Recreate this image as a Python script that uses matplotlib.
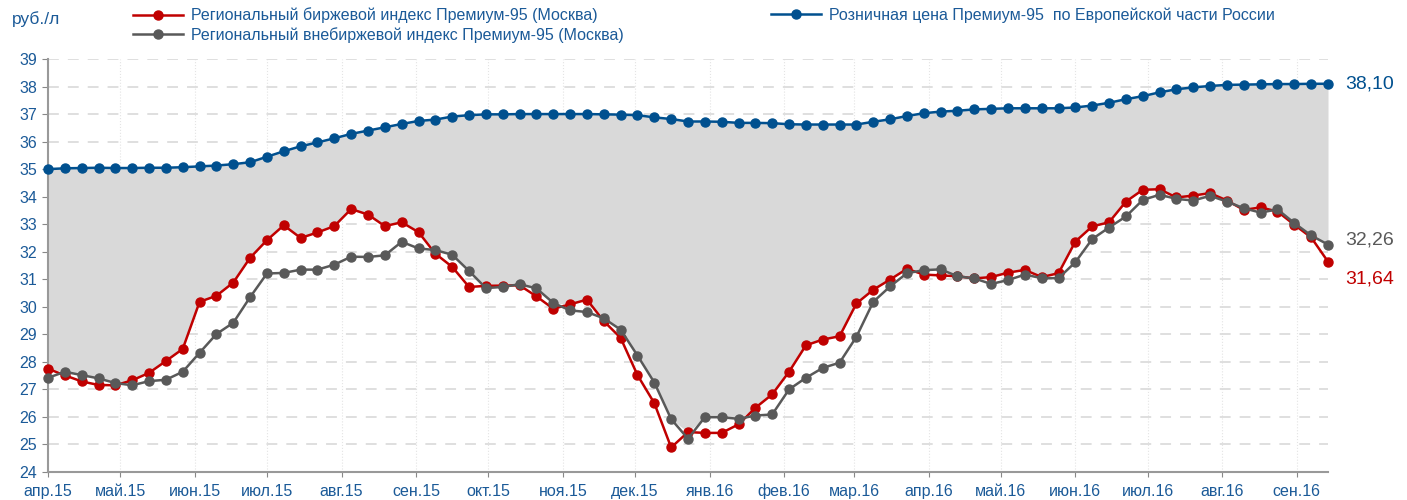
import matplotlib
matplotlib.use('Agg')
import matplotlib.pyplot as plt
import numpy as np
import pandas as pd

plt.rcParams['font.family'] = ['Liberation Sans', 'DejaVu Sans']

# weekly observations, Apr 2015 - Sep 2016
weeks = pd.date_range('2015-04-01', periods=77, freq='7D')

retail = [35.00, 35.03, 35.04, 35.05, 35.04, 35.04, 35.05, 35.05, 35.07, 35.10,
          35.13, 35.18, 35.25, 35.45, 35.65, 35.83, 35.97, 36.12, 36.28, 36.40,
          36.52, 36.64, 36.75, 36.80, 36.91, 36.96, 36.99, 36.99, 37.00, 37.00,
          37.00, 37.00, 37.00, 36.99, 36.98, 36.96, 36.88, 36.82, 36.73, 36.73,
          36.72, 36.68, 36.68, 36.67, 36.63, 36.62, 36.62, 36.62, 36.62, 36.72,
          36.81, 36.93, 37.03, 37.09, 37.12, 37.17, 37.19, 37.21, 37.21, 37.21,
          37.21, 37.24, 37.31, 37.41, 37.54, 37.65, 37.79, 37.90, 37.97, 38.02,
          38.06, 38.07, 38.08, 38.09, 38.09, 38.10, 38.10]

exchange = [27.75, 27.51, 27.29, 27.16, 27.15, 27.33, 27.60, 28.03, 28.47, 30.18,
            30.40, 30.88, 31.78, 32.42, 32.96, 32.50, 32.70, 32.93, 33.55, 33.35,
            32.93, 33.07, 32.71, 31.93, 31.45, 30.72, 30.76, 30.77, 30.78, 30.38,
            29.93, 30.09, 30.26, 29.48, 28.87, 27.52, 26.50, 24.89, 25.45, 25.42,
            25.42, 25.73, 26.33, 26.82, 27.64, 28.60, 28.81, 28.93, 30.12, 30.62,
            30.99, 31.38, 31.17, 31.14, 31.11, 31.03, 31.08, 31.24, 31.34, 31.08,
            31.22, 32.37, 32.92, 33.07, 33.82, 34.25, 34.27, 33.97, 34.04, 34.13,
            33.86, 33.52, 33.61, 33.46, 32.98, 32.52, 31.64]

otc = [27.42, 27.64, 27.52, 27.40, 27.23, 27.15, 27.30, 27.35, 27.64, 28.33,
       29.01, 29.42, 30.35, 31.21, 31.23, 31.35, 31.35, 31.53, 31.82, 31.81,
       31.87, 32.36, 32.12, 32.06, 31.89, 31.30, 30.68, 30.72, 30.82, 30.67,
       30.14, 29.87, 29.81, 29.58, 29.17, 28.23, 27.25, 25.92, 25.21, 25.99,
       25.99, 25.93, 26.05, 26.09, 27.00, 27.42, 27.78, 27.97, 28.91, 30.18,
       30.74, 31.22, 31.33, 31.36, 31.11, 31.03, 30.83, 30.97, 31.17, 31.04,
       31.04, 31.62, 32.46, 32.88, 33.28, 33.88, 34.07, 33.92, 33.86, 34.03,
       33.82, 33.58, 33.42, 33.54, 33.04, 32.59, 32.26]

month_starts = pd.date_range('2015-04-01', '2016-09-01', freq='MS')
month_labels = ['апр.15', 'май.15', 'июн.15', 'июл.15', 'авг.15', 'сен.15',
                'окт.15', 'ноя.15', 'дек.15', 'янв.16', 'фев.16', 'мар.16',
                'апр.16', 'май.16', 'июн.16', 'июл.16', 'авг.16', 'сен.16']

label_exchange = 'Региональный биржевой индекс Премиум-95 (Москва)'
label_otc = 'Региональный внебиржевой индекс Премиум-95 (Москва)'
label_retail = 'Розничная цена Премиум-95  по Европейской части России'

RED = '#C00000'
GREY = '#595959'
BLUE = '#00508F'
TEXT = '#1B5A98'
FILL = '#D9D9D9'

fig = plt.figure(figsize=(14.07, 5.0), dpi=100)
ax = fig.add_axes([48 / 1407, 1 - 472 / 500, 1280 / 1407, 413 / 500])

# shaded gap between retail price and the higher of the two indices
upper_index = np.maximum(exchange, otc)
ax.fill_between(weeks, retail, upper_index, color=FILL, lw=0, zorder=1)

line_kw = dict(marker='o', markersize=6.5, lw=1.8, clip_on=False, zorder=3)
l_ex, = ax.plot(weeks, exchange, color=RED, label=label_exchange, **line_kw)
l_otc, = ax.plot(weeks, otc, color=GREY, label=label_otc, **line_kw)
l_ret, = ax.plot(weeks, retail, color=BLUE, label=label_retail, **line_kw)

ax.set_xlim(weeks[0], weeks[-1])
ax.set_ylim(24, 39)
ax.set_yticks(range(24, 40))
ax.set_xticks(month_starts)
ax.set_xticklabels(month_labels)

ax.tick_params(axis='both', colors='#888888', labelcolor=TEXT)
ax.tick_params(axis='y', length=4, pad=4, labelsize=11.5)
ax.tick_params(axis='x', length=3.6, pad=14, labelsize=11.5)
# baseline alignment keeps letters with tall strokes (ф) on one line
for lbl in ax.get_xticklabels():
    lbl.set_verticalalignment('baseline')

for side in ('top', 'right'):
    ax.spines[side].set_visible(False)
for side in ('left', 'bottom'):
    ax.spines[side].set_color('#999999')
    ax.spines[side].set_linewidth(1.5)

ax.set_axisbelow(True)
ax.yaxis.grid(True, linestyle=(0, (6, 5)), color='#DCDCDC', lw=1.3, zorder=0)
ax.xaxis.grid(True, linestyle=':', color='#E4E4E4', lw=0.8, zorder=0)

# closing values next to the last points
ax.annotate(f'{retail[-1]:.2f}'.replace('.', ','), (weeks[-1], retail[-1]),
            xytext=(17, 0), textcoords='offset pixels', va='center',
            color=BLUE, fontsize=14, annotation_clip=False)
ax.annotate(f'{otc[-1]:.2f}'.replace('.', ','), (weeks[-1], otc[-1]),
            xytext=(17, 5), textcoords='offset pixels', va='center',
            color=GREY, fontsize=14, annotation_clip=False)
ax.annotate(f'{exchange[-1]:.2f}'.replace('.', ','), (weeks[-1], exchange[-1]),
            xytext=(17, -17), textcoords='offset pixels', va='center',
            color=RED, fontsize=14, annotation_clip=False)

fig.text(12 / 1407, 1 - 19 / 500, 'руб./л', color=TEXT, fontsize=12.5,
         va='center', ha='left')

leg_kw = dict(frameon=False, fontsize=11.5, handlelength=3.1, handletextpad=0.5,
              labelspacing=0.25, borderaxespad=0, labelcolor=TEXT)
leg1 = fig.legend(handles=[l_ex, l_otc], loc='upper left',
                  bbox_to_anchor=(127 / 1407, 1 - 1 / 500), **leg_kw)
leg2 = fig.legend(handles=[l_ret], loc='upper left',
                  bbox_to_anchor=(765 / 1407, 1 - 1 / 500), **leg_kw)

fig.savefig('out.png', dpi=100)
